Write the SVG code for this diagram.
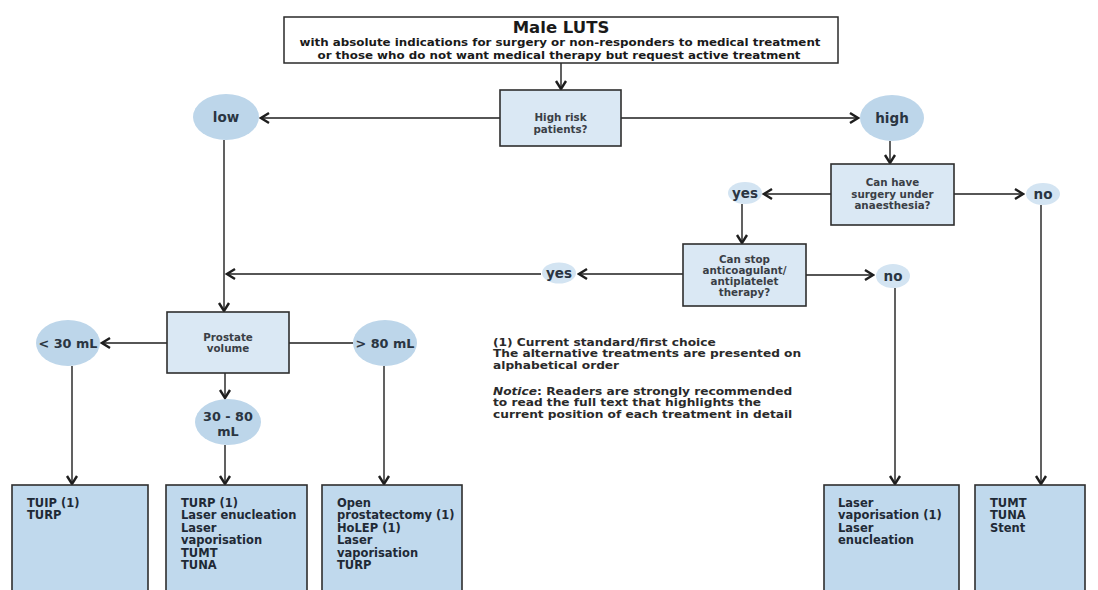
<svg xmlns="http://www.w3.org/2000/svg" width="1098" height="590" viewBox="0 0 1098 590">
<style>
text{font-family:"DejaVu Sans","Liberation Sans",sans-serif;font-weight:bold}
.top{fill:#fff;stroke:#2a2a2a;stroke-width:1.5}
.dec{fill:#dae8f4;stroke:#2e2e2e;stroke-width:1.6}
.res{fill:#c0d9ed;stroke:#2e2e2e;stroke-width:1.6}
.cir{fill:#bdd6ea}
.sm{fill:#d3e4f2}
.t16{font-size:16.5px;fill:#1a1a1a;text-anchor:middle}
.sub{font-size:10.5px;fill:#1a1a1a;text-anchor:middle}
.dt{font-size:10.3px;fill:#3a3f46;text-anchor:middle}
.cl{font-size:13.5px;fill:#2a3542;text-anchor:middle}
.vl{font-size:12.8px;fill:#2a3542;text-anchor:middle}
.rt{font-size:11.5px;fill:#1f2a36}
.lg{font-size:10.6px;fill:#2a2a2a}
.c{fill:none;stroke:#1e1e1e;stroke-width:1.4}
</style>
<defs>
<marker id="ah" markerUnits="userSpaceOnUse" viewBox="-11 -7 13 14" markerWidth="13" markerHeight="14" refX="0" refY="0" orient="auto">
<path d="M-8,-5 L0,0 L-8,5" fill="none" stroke="#1e1e1e" stroke-width="2.4" stroke-linejoin="miter"/>
</marker>
</defs>

<g id="connectors">
<line class="c" x1="561" y1="63" x2="561" y2="89" marker-end="url(#ah)"/>
<line class="c" x1="500" y1="118" x2="261" y2="118" marker-end="url(#ah)"/>
<line class="c" x1="621" y1="118" x2="858" y2="118" marker-end="url(#ah)"/>
<line class="c" x1="890" y1="141" x2="890" y2="163" marker-end="url(#ah)"/>
<line class="c" x1="831" y1="194" x2="764" y2="194" marker-end="url(#ah)"/>
<line class="c" x1="954" y1="194" x2="1023" y2="194" marker-end="url(#ah)"/>
<line class="c" x1="742" y1="204" x2="742" y2="243" marker-end="url(#ah)"/>
<line class="c" x1="683" y1="274" x2="579" y2="274" marker-end="url(#ah)"/>
<line class="c" x1="541" y1="274" x2="227" y2="274" marker-end="url(#ah)"/>
<line class="c" x1="806" y1="275" x2="873" y2="275" marker-end="url(#ah)"/>
<line class="c" x1="895" y1="288" x2="895" y2="484" marker-end="url(#ah)"/>
<line class="c" x1="1041" y1="205" x2="1041" y2="484" marker-end="url(#ah)"/>
<line class="c" x1="224" y1="140" x2="224" y2="311" marker-end="url(#ah)"/>
<line class="c" x1="167" y1="343" x2="102" y2="343" marker-end="url(#ah)"/>
<line class="c" x1="289" y1="343" x2="353" y2="343"/>
<line class="c" x1="225" y1="373" x2="225" y2="398" marker-end="url(#ah)"/>
<line class="c" x1="72" y1="366" x2="72" y2="484" marker-end="url(#ah)"/>
<line class="c" x1="225" y1="445" x2="225" y2="484" marker-end="url(#ah)"/>
<line class="c" x1="384" y1="366" x2="384" y2="484" marker-end="url(#ah)"/>
</g>

<g id="start">
<rect class="top" x="284" y="17" width="554" height="46"/>
<text class="t16" x="561" y="33">Male LUTS</text>
<text class="sub" x="560" y="46" textLength="521" lengthAdjust="spacingAndGlyphs">with absolute indications for surgery or non-responders to medical treatment</text>
<text class="sub" x="559" y="58.5" textLength="483" lengthAdjust="spacingAndGlyphs">or those who do not want medical therapy but request active treatment</text>
</g>

<g id="highrisk">
<rect class="dec" x="500" y="90" width="121" height="56"/>
<text class="dt" x="560.5" y="121">High risk</text>
<text class="dt" x="560.5" y="132.5">patients?</text>
</g>

<g id="low">
<ellipse class="cir" cx="226" cy="117" rx="33" ry="23"/>
<text class="cl" x="226" y="122">low</text>
</g>

<g id="high">
<ellipse class="cir" cx="892" cy="118" rx="32" ry="23"/>
<text class="cl" x="892" y="123">high</text>
</g>

<g id="surgery">
<rect class="dec" x="831" y="164" width="123" height="61"/>
<text class="dt" x="892.5" y="186">Can have</text>
<text class="dt" x="892.5" y="197.5">surgery under</text>
<text class="dt" x="892.5" y="209">anaesthesia?</text>
</g>

<g id="yes1">
<ellipse class="sm" cx="745" cy="193" rx="17" ry="11"/>
<text class="cl" x="745" y="198">yes</text>
</g>

<g id="no1">
<ellipse class="sm" cx="1043" cy="194" rx="17" ry="11"/>
<text class="cl" x="1043" y="199">no</text>
</g>

<g id="anticoag">
<rect class="dec" x="683" y="244" width="123" height="62"/>
<text class="dt" x="744.5" y="263">Can stop</text>
<text class="dt" x="744.5" y="274">anticoagulant/</text>
<text class="dt" x="744.5" y="285">antiplatelet</text>
<text class="dt" x="744.5" y="296">therapy?</text>
</g>

<g id="yes2">
<ellipse class="sm" cx="559" cy="273" rx="17" ry="10.5"/>
<text class="cl" x="559" y="278">yes</text>
</g>

<g id="no2">
<ellipse class="sm" cx="893" cy="276" rx="17" ry="12"/>
<text class="cl" x="893" y="281">no</text>
</g>

<g id="prostate">
<rect class="dec" x="167" y="312" width="122" height="61"/>
<text class="dt" x="228" y="341">Prostate</text>
<text class="dt" x="228" y="352">volume</text>
</g>

<g id="lt30">
<ellipse class="cir" cx="68" cy="343" rx="32" ry="23"/>
<text class="vl" x="68" y="347.5">&lt; 30 mL</text>
</g>

<g id="gt80">
<ellipse class="cir" cx="385" cy="343" rx="32" ry="23"/>
<text class="vl" x="385" y="347.5">&gt; 80 mL</text>
</g>

<g id="mid">
<ellipse class="cir" cx="228" cy="422" rx="33" ry="23"/>
<text class="vl" x="228" y="421">30 - 80</text>
<text class="vl" x="228" y="436">mL</text>
</g>

<g id="legend" transform="translate(493 0) scale(1.15 1)">
<text class="lg" x="0" y="346">(1) Current standard/first choice</text>
<text class="lg" x="0" y="357.5">The alternative treatments are presented on</text>
<text class="lg" x="0" y="369">alphabetical order</text>
<text class="lg" x="0" y="395"><tspan font-style="italic">Notice</tspan>: Readers are strongly recommended</text>
<text class="lg" x="0" y="406.5">to read the full text that highlights the</text>
<text class="lg" x="0" y="418">current position of each treatment in detail</text>
</g>

<g id="res1">
<rect class="res" x="12" y="485" width="136" height="115"/>
<text class="rt" x="27" y="507">TUIP (1)</text>
<text class="rt" x="27" y="519.4">TURP</text>
</g>

<g id="res2">
<rect class="res" x="166" y="485" width="141" height="115"/>
<text class="rt" x="181" y="507">TURP (1)</text>
<text class="rt" x="181" y="519.4">Laser enucleation</text>
<text class="rt" x="181" y="531.8">Laser</text>
<text class="rt" x="181" y="544.2">vaporisation</text>
<text class="rt" x="181" y="556.6">TUMT</text>
<text class="rt" x="181" y="569">TUNA</text>
</g>

<g id="res3">
<rect class="res" x="322" y="485" width="140" height="115"/>
<text class="rt" x="337" y="507">Open</text>
<text class="rt" x="337" y="519.4">prostatectomy (1)</text>
<text class="rt" x="337" y="531.8">HoLEP (1)</text>
<text class="rt" x="337" y="544.2">Laser</text>
<text class="rt" x="337" y="556.6">vaporisation</text>
<text class="rt" x="337" y="569">TURP</text>
</g>

<g id="res4">
<rect class="res" x="824" y="485" width="135" height="115"/>
<text class="rt" x="838" y="507">Laser</text>
<text class="rt" x="838" y="519.4">vaporisation (1)</text>
<text class="rt" x="838" y="531.8">Laser</text>
<text class="rt" x="838" y="544.2">enucleation</text>
</g>

<g id="res5">
<rect class="res" x="975" y="485" width="110" height="115"/>
<text class="rt" x="990" y="507">TUMT</text>
<text class="rt" x="990" y="519.4">TUNA</text>
<text class="rt" x="990" y="531.8">Stent</text>
</g>
</svg>
